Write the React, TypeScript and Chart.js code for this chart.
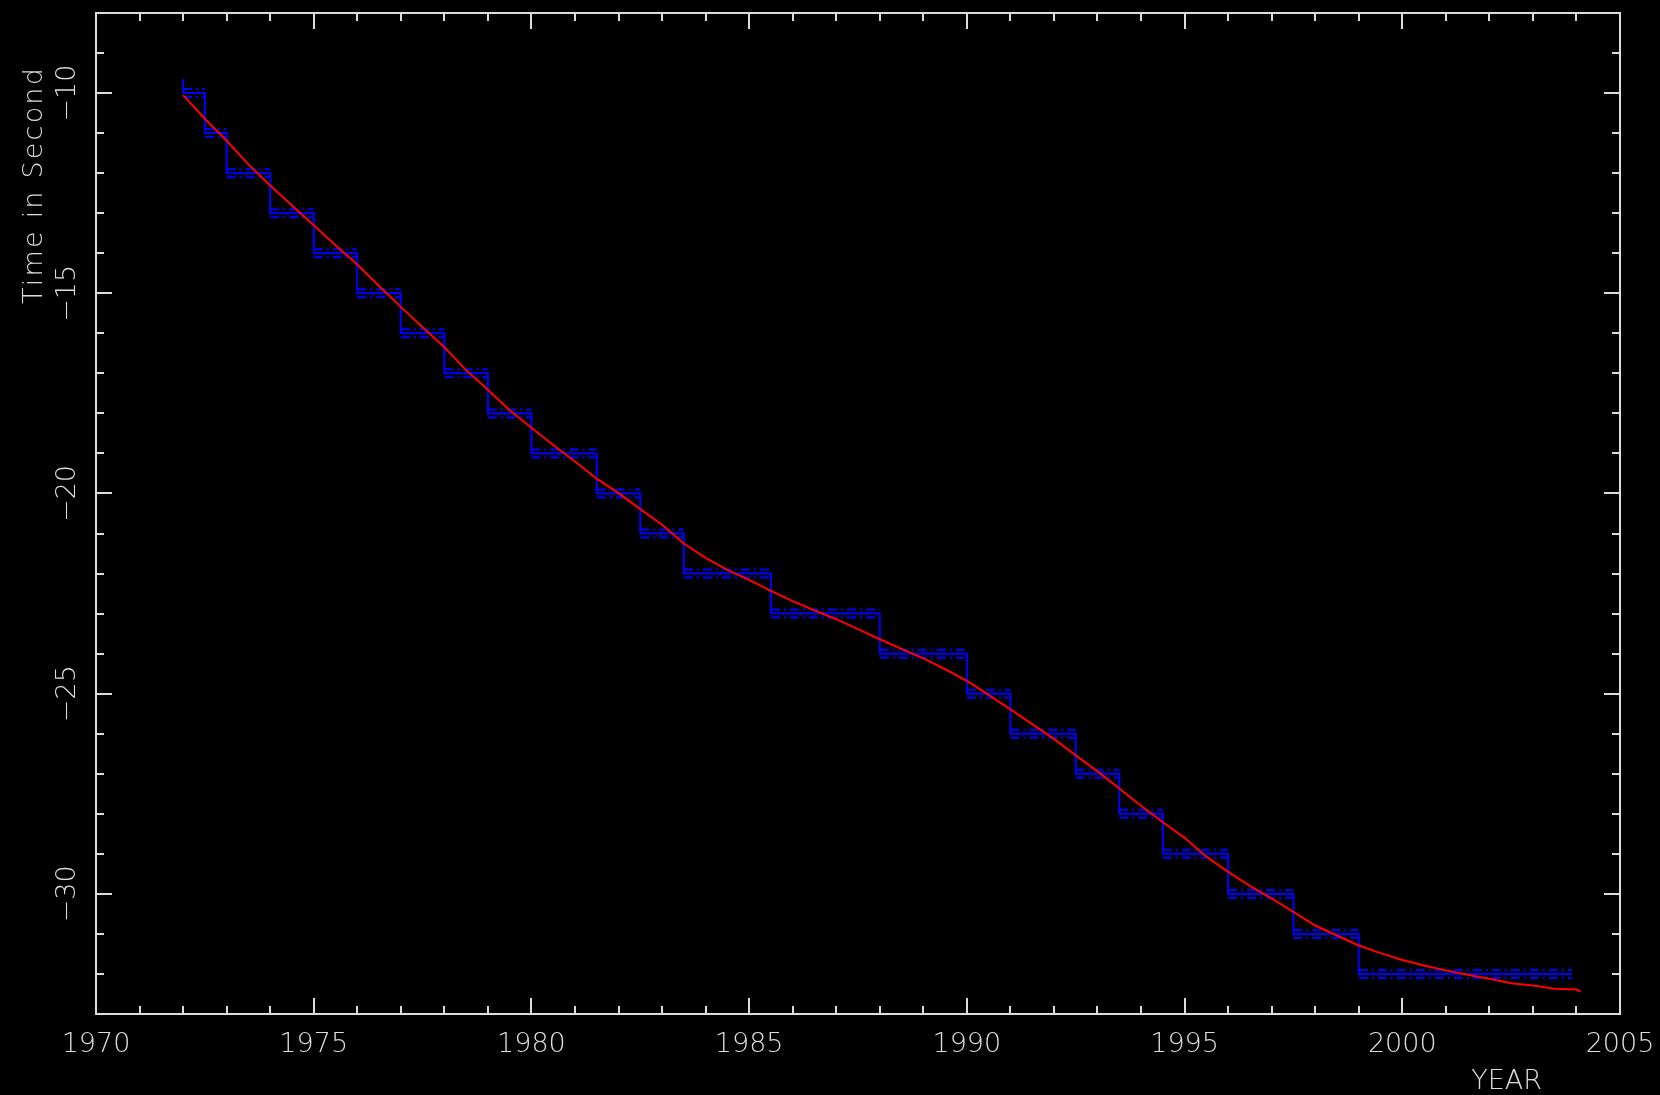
import { useEffect, useRef } from "react";
import { Chart, registerables } from "chart.js";

Chart.register(...registerables);

// ---- Data ----
// Leap-second step function (negated TAI-UTC), step start years and levels
const leapYears = [1972.0, 1972.5, 1973.0, 1974.0, 1975.0, 1976.0, 1977.0, 1978.0, 1979.0, 1980.0, 1981.5, 1982.5, 1983.5, 1985.5, 1988.0, 1990.0, 1991.0, 1992.5, 1993.5, 1994.5, 1996.0, 1997.5, 1999.0];
const leapValues = [-10, -11, -12, -13, -14, -15, -16, -17, -18, -19, -20, -21, -22, -23, -24, -25, -26, -27, -28, -29, -30, -31, -32];
const leapStartValue = -9.65;
const leapEndYear = 2003.9;
const bandHalfWidth = 0.1;

// UT1 - TAI (seconds)
const ut1Years = [1972.0, 1972.5, 1973.0, 1973.5, 1974.0, 1974.5, 1975.0, 1975.5, 1976.0, 1976.5, 1977.0, 1977.5, 1978.0, 1978.5, 1979.0, 1979.5, 1980.0, 1980.5, 1981.0, 1981.5, 1982.0, 1982.5, 1983.0, 1983.5, 1984.0, 1984.5, 1985.0, 1985.5, 1986.0, 1986.5, 1987.0, 1987.5, 1988.0, 1988.5, 1989.0, 1989.5, 1990.0, 1990.5, 1991.0, 1991.5, 1992.0, 1992.5, 1993.0, 1993.5, 1994.0, 1994.5, 1995.0, 1995.5, 1996.0, 1996.5, 1997.0, 1997.5, 1998.0, 1998.5, 1999.0, 1999.5, 2000.0, 2000.5, 2001.0, 2001.5, 2002.0, 2002.5, 2003.0, 2003.5, 2004.0, 2004.1];
const ut1Values = [-10.05, -10.64, -11.19, -11.78, -12.31, -12.81, -13.30, -13.80, -14.28, -14.82, -15.34, -15.85, -16.35, -16.92, -17.41, -17.92, -18.36, -18.79, -19.20, -19.63, -19.99, -20.39, -20.78, -21.25, -21.61, -21.91, -22.16, -22.43, -22.69, -22.92, -23.14, -23.39, -23.64, -23.88, -24.12, -24.39, -24.68, -25.03, -25.39, -25.76, -26.13, -26.54, -26.94, -27.37, -27.80, -28.21, -28.60, -29.07, -29.45, -29.80, -30.12, -30.45, -30.79, -31.04, -31.29, -31.48, -31.65, -31.79, -31.91, -32.02, -32.12, -32.23, -32.29, -32.37, -32.39, -32.44];

// Axes
const xMin = 1970;
const xMax = 2005;
const yMin = -33;
const yMax = -8;
const xTickValues = [1970, 1975, 1980, 1985, 1990, 1995, 2000, 2005];
const yTickValues = [-30, -25, -20, -15, -10];
const xLabel = "YEAR";
const yLabel = "Time in Second";

const AXIS_COLOR = "#dcdcdc";
const BLUE = "#0000ff";
const RED = "#ff0000";
const FONT_FAMILY = '"DejaVu Sans", sans-serif';
const FONT_SIZE = 27;
const FONT_WEIGHT = "200";

function buildStepData() {
  const pts: { x: number; y: number }[] = [{ x: leapYears[0], y: leapStartValue }];
  leapYears.forEach((yr, i) => pts.push({ x: yr, y: leapValues[i] }));
  pts.push({ x: leapEndYear, y: leapValues[leapValues.length - 1] });
  return pts;
}

function buildBandData(offset: number) {
  const pts: { x: number; y: number | null }[] = [];
  leapYears.forEach((yr, i) => {
    const end = i + 1 < leapYears.length ? leapYears[i + 1] : leapEndYear;
    pts.push({ x: yr, y: leapValues[i] + offset });
    pts.push({ x: end, y: leapValues[i] + offset });
    pts.push({ x: end, y: null });
  });
  return pts;
}

const framePlugin = {
  id: "pgframe",
  afterDatasetsDraw(chart: any) {
    const { ctx, chartArea, scales } = chart;
    const { left, right, top, bottom } = chartArea;
    const xs = scales.x;
    const ys = scales.y;
    ctx.save();
    ctx.strokeStyle = AXIS_COLOR;
    ctx.lineWidth = 2;
    ctx.beginPath();
    // x ticks (bottom and top)
    for (let v = Math.ceil(xs.min) + 1; v < xs.max; v++) {
      const px = Math.round(xs.getPixelForValue(v));
      const len = v % 5 === 0 ? 16 : 8;
      ctx.moveTo(px, bottom);
      ctx.lineTo(px, bottom - len);
      ctx.moveTo(px, top);
      ctx.lineTo(px, top + len);
    }
    // y ticks (left and right)
    for (let v = Math.ceil(ys.min) + 1; v < ys.max; v++) {
      const py = Math.round(ys.getPixelForValue(v));
      const len = v % 5 === 0 ? 16 : 8;
      ctx.moveTo(left, py);
      ctx.lineTo(left + len, py);
      ctx.moveTo(right, py);
      ctx.lineTo(right - len, py);
    }
    ctx.stroke();
    ctx.strokeRect(left, top, right - left, bottom - top);

    // axis titles
    ctx.fillStyle = AXIS_COLOR;
    ctx.font = `${FONT_WEIGHT} ${FONT_SIZE}px ${FONT_FAMILY}`;
    ctx.textAlign = "right";
    ctx.textBaseline = "alphabetic";
    (ctx as any).letterSpacing = "0px";
    ctx.fillText(xLabel, 1542, 1089);
    ctx.translate(42, 66);
    ctx.rotate(-Math.PI / 2);
    ctx.textAlign = "right";
    (ctx as any).letterSpacing = "2.2px";
    ctx.fillText(yLabel, 0, 0);
    ctx.restore();
  },
};

const fmt = (v: number) => (v < 0 ? "\u2212" + Math.abs(v) : String(v));

export default function App() {
  const ref = useRef<HTMLCanvasElement | null>(null);

  useEffect(() => {
    document.body.style.margin = "0";
    document.body.style.background = "#000";
    const canvas = ref.current;
    if (!canvas) return;
    const chart = new Chart(canvas, {
      type: "line",
      data: {
        datasets: [
          {
            label: "UT1-TAI",
            data: ut1Years.map((x, i) => ({ x, y: ut1Values[i] })),
            borderColor: RED,
            borderWidth: 2,
            pointRadius: 0,
            tension: 0,
          },
          {
            label: "UTC-TAI",
            data: buildStepData(),
            borderColor: BLUE,
            borderWidth: 2,
            pointRadius: 0,
            stepped: "before",
          },
          {
            label: "upper",
            data: buildBandData(bandHalfWidth),
            borderColor: BLUE,
            borderWidth: 2,
            borderDash: [9, 4, 2, 4],
            pointRadius: 0,
            spanGaps: false,
          },
          {
            label: "lower",
            data: buildBandData(-bandHalfWidth),
            borderColor: BLUE,
            borderWidth: 2,
            borderDash: [9, 4, 2, 4],
            pointRadius: 0,
            spanGaps: false,
          },
        ],
      },
      options: {
        animation: false,
        responsive: false,
        devicePixelRatio: 1,
        parsing: true,
        layout: { padding: { left: 0, right: 40, top: 13, bottom: 0 } },
        plugins: {
          legend: { display: false },
          tooltip: { enabled: false },
          title: { display: false },
        },
        scales: {
          x: {
            type: "linear",
            position: "bottom",
            min: xMin,
            max: xMax,
            grid: { display: false, drawTicks: false },
            border: { display: false },
            afterBuildTicks: (s: any) => {
              s.ticks = xTickValues.map((value) => ({ value }));
            },
            afterFit: (s: any) => {
              s.height = 81;
              s.paddingLeft = 0;
              s.paddingRight = 0;
            },
            ticks: {
              autoSkip: false,
              maxRotation: 0,
              minRotation: 0,
              padding: 15,
              color: AXIS_COLOR,
              font: { family: FONT_FAMILY, size: FONT_SIZE, weight: FONT_WEIGHT as any },
              callback: (v: any) => String(v),
            },
          },
          y: {
            type: "linear",
            position: "left",
            min: yMin,
            max: yMax,
            grid: { display: false, drawTicks: false },
            border: { display: false },
            afterBuildTicks: (s: any) => {
              s.ticks = yTickValues.map((value) => ({ value }));
            },
            afterFit: (s: any) => {
              s.width = 96;
              s.paddingTop = 0;
              s.paddingBottom = 0;
            },
            ticks: {
              autoSkip: false,
              minRotation: 90,
              maxRotation: 90,
              crossAlign: "center",
              padding: 0,
              color: AXIS_COLOR,
              font: { family: FONT_FAMILY, size: FONT_SIZE, weight: FONT_WEIGHT as any },
              callback: (v: any) => fmt(Number(v)),
            },
          },
        },
      },
      plugins: [framePlugin],
    });
    return () => chart.destroy();
  }, []);

  return (
    <div style={{ position: "absolute", left: 0, top: 0, width: 1660, height: 1095, background: "#000" }}>
      <canvas ref={ref} width={1660} height={1095} style={{ display: "block", width: 1660, height: 1095 }} />
    </div>
  );
}
